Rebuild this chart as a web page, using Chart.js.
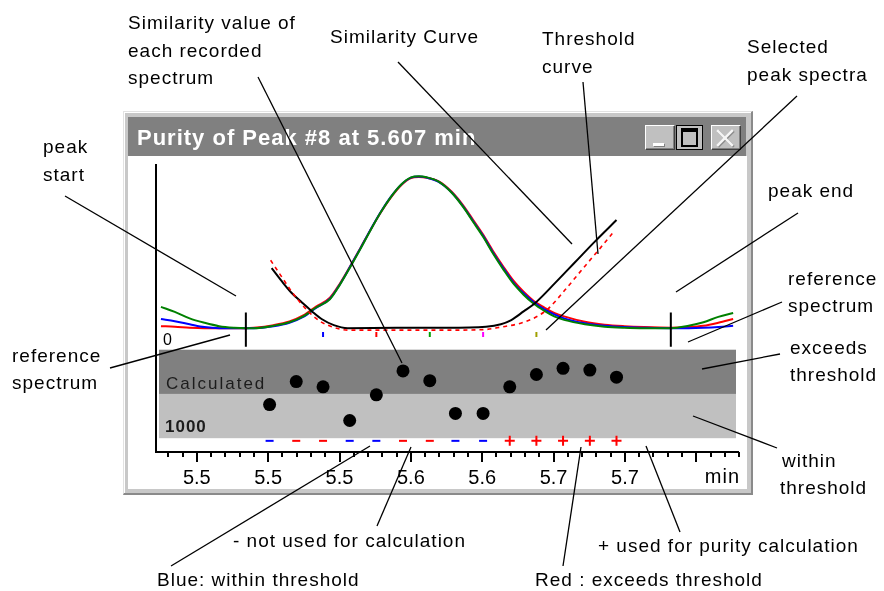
<!DOCTYPE html>
<html>
<head>
<meta charset="utf-8">
<title>Purity of Peak #8</title>
<script src="https://cdn.jsdelivr.net/npm/chart.js@4.4.1/dist/chart.umd.min.js"></script>
<style>
  html, body { margin: 0; padding: 0; background: #fff; }
  body { width: 884px; height: 591px; position: relative; overflow: hidden; font-family: "Liberation Sans", Arial, sans-serif; }
  #frame { position: absolute; left: 123px; top: 111px; width: 627px; height: 381px; background: #c8c8c8;
           border-top: 1px solid #e2e2e2; border-left: 1px solid #e2e2e2;
           border-right: 2px solid #8a8a8a; border-bottom: 2px solid #8a8a8a;
           box-shadow: inset 1px 1px 0 #fff; }
  #titlebar { position: absolute; left: 128px; top: 117px; width: 618px; height: 39px; background: #808080; }
  #client { position: absolute; left: 128px; top: 156px; width: 619px; height: 333px; background: #fff; }
  #client canvas { display: block; }
  .btn { position: absolute; top: 125px; height: 25px; box-sizing: border-box; background: #c0c0c0;
         border-top: 1px solid #fff; border-left: 1px solid #fff;
         border-right: 1px solid #404040; border-bottom: 1px solid #404040;
         box-shadow: inset -1px -1px 0 #808080; }
  #btnMin { left: 645px; width: 30px; }
  #btnMin i { position: absolute; left: 7px; top: 17px; width: 11px; height: 3px; background: #fff; box-shadow: 1px 1px 0 #808080; }
  #btnMax { left: 676px; width: 27px; border: 1px solid #000; box-shadow: none; }
  #btnMax i { position: absolute; left: 4px; top: 2px; width: 17px; height: 19px; box-sizing: border-box;
              border: 2px solid #000; border-top-width: 4px; }
  #btnClose { left: 711px; width: 30px; }
  #notes { position: absolute; left: 0; top: 0; pointer-events: none; letter-spacing: 1px; }
</style>
</head>
<body>
<div id="frame"></div>
<div id="titlebar"></div>
<div class="btn" id="btnMin"><i></i></div>
<div class="btn" id="btnMax"><i></i></div>
<div class="btn" id="btnClose"></div>
<div id="client"><canvas id="purity" width="619" height="333"></canvas></div>

<svg id="notes" width="884" height="591" font-family="Liberation Sans, Arial, sans-serif" font-size="19" fill="#000">
  <text x="137" y="145" font-size="22" font-weight="bold" fill="#fff">Purity of Peak #8 at 5.607 min</text>
  <g stroke-width="2.4" stroke-linecap="square">
    <line x1="719" y1="132" x2="733" y2="146" stroke="#8a8a8a"/>
    <line x1="733" y1="132" x2="719" y2="146" stroke="#8a8a8a"/>
    <line x1="718" y1="131" x2="732" y2="145" stroke="#f6f6f6"/>
    <line x1="732" y1="131" x2="718" y2="145" stroke="#f6f6f6"/>
  </g>

  <text x="128" y="29">Similarity value of</text>
  <text x="128" y="56.5">each recorded</text>
  <text x="128" y="84">spectrum</text>
  <text x="330" y="43">Similarity Curve</text>
  <text x="542" y="45">Threshold</text>
  <text x="542" y="72.5">curve</text>
  <text x="747" y="53">Selected</text>
  <text x="747" y="80.5">peak spectra</text>
  <text x="43" y="153">peak</text>
  <text x="43" y="181">start</text>
  <text x="768" y="197">peak end</text>
  <text x="788" y="285">reference</text>
  <text x="788" y="312">spectrum</text>
  <text x="12" y="362">reference</text>
  <text x="12" y="389">spectrum</text>
  <text x="790" y="354">exceeds</text>
  <text x="790" y="381">threshold</text>
  <text x="782" y="467">within</text>
  <text x="780" y="493.5">threshold</text>
  <text x="233" y="547">- not used for calculation</text>
  <text x="598" y="552">+ used for purity calculation</text>
  <text x="157" y="586">Blue:  within threshold</text>
  <text x="535" y="586">Red :  exceeds threshold</text>

  <g stroke="#000" stroke-width="1.3" fill="none">
    <line x1="258" y1="77" x2="402" y2="363"/>
    <line x1="398" y1="62" x2="572" y2="244"/>
    <line x1="583" y1="82" x2="598" y2="254"/>
    <line x1="797" y1="96" x2="546" y2="330"/>
    <line x1="65" y1="196" x2="236" y2="296"/>
    <line x1="798" y1="213" x2="676" y2="292"/>
    <line x1="782" y1="302" x2="688" y2="342"/>
    <line x1="110" y1="368" x2="230" y2="335"/>
    <line x1="780" y1="354" x2="702" y2="369"/>
    <line x1="777" y1="448" x2="693" y2="416"/>
    <line x1="171" y1="566" x2="370" y2="446"/>
    <line x1="377" y1="526" x2="411" y2="447"/>
    <line x1="563" y1="566" x2="581" y2="447"/>
    <line x1="680" y1="532" x2="646" y2="446"/>
  </g>
</svg>

<script>
// Retention time axis (min)
const timeRange = [5.423, 5.824];
const majorTicks = [5.451, 5.500, 5.549, 5.598, 5.647, 5.696, 5.745, 5.794];
const tickLabels = ['5.5', '5.5', '5.5', '5.6', '5.6', '5.7', '5.7', ''];
const minorPerMajor = 5;

// Chromatogram overlay (normalised signal, three wavelengths)
const chromTimes = [5.4264, 5.4359, 5.4461, 5.4562, 5.4664, 5.4766, 5.4847, 5.4902, 5.5037, 5.5146,
  5.5241, 5.5329, 5.5424, 5.5492, 5.5567, 5.5635, 5.5702, 5.5770, 5.5841, 5.5912,
  5.5981, 5.6035, 5.6089, 5.6171, 5.6259, 5.6340, 5.6408, 5.6476, 5.6544, 5.6618,
  5.6686, 5.6754, 5.6822, 5.6897, 5.6964, 5.7032, 5.7175, 5.7310, 5.7446, 5.7582,
  5.7765, 5.7887, 5.7989, 5.8091, 5.8193];
const signalGreen = [14.1, 10.8, 6.5, 3.6, 1.3, 0.3, 0, 0, 1.6, 3.9,
  7.8, 13.7, 19.2, 28.7, 41.1, 52.8, 64.8, 76.3, 86.7, 95.1,
  100.0, 100.7, 100.0, 97.1, 89.9, 80.2, 70.4, 60.6, 49.5, 38.5,
  29.3, 22.2, 16.3, 11.4, 7.8, 5.5, 2.6, 1.0, 0.3, 0,
  0, 1.6, 3.9, 7.5, 10.0];
const signalBlue = [6.1, 4.6, 2.6, 0.7, 0, 0, 0, 0, 1.3, 3.6,
  7.5, 13.4, 19.5, 29.0, 41.5, 53.2, 65.1, 76.5, 86.9, 95.0,
  99.8, 100.5, 99.8, 97.0, 90.1, 80.6, 70.9, 61.2, 50.2, 39.3,
  30.1, 23.1, 17.3, 12.4, 9.1, 6.5, 3.3, 1.6, 0.7, 0.3,
  0, 0, 0.2, 0.7, 1.6];
const signalRed = [1.3, 1.0, 0.3, 0, 0, 0, 0, 0.3, 2.0, 4.4,
  8.4, 14.3, 20.2, 29.5, 41.7, 53.4, 65.0, 76.2, 86.4, 94.6,
  99.5, 100.2, 99.7, 97.3, 90.6, 81.3, 71.7, 62.0, 51.2, 40.4,
  31.3, 24.1, 18.2, 13.7, 10.1, 7.8, 4.2, 2.3, 1.3, 0.7,
  0.3, 0.7, 1.6, 3.6, 6.1];

// Similarity curve and threshold curve
const simCurveTimes = [5.5024, 5.5092, 5.5160, 5.5234, 5.5302, 5.5370, 5.5451, 5.5546, 5.5886, 5.6225,
  5.6496, 5.6598, 5.6666, 5.6754, 5.6836, 5.6971, 5.7107, 5.7243, 5.7392];
const simCurve = [39.8, 31.3, 23.5, 16.9, 11.1, 5.9, 2.0, 0, 0.3, 0.3,
  1.0, 2.6, 5.2, 11.1, 16.9, 30.0, 43.7, 57.4, 71.7];
const thrCurveTimes = [5.5017, 5.5085, 5.5153, 5.5221, 5.5289, 5.5356, 5.5445, 5.5546, 5.5886, 5.6225,
  5.6476, 5.6598, 5.6734, 5.6836, 5.6924, 5.7039, 5.7175, 5.7283, 5.7378];
const thrCurve = [45.0, 35.2, 25.4, 16.9, 9.8, 4.6, 0.7, -1.3, -1.3, -1.3,
  -1.0, 0.7, 3.3, 7.2, 13.0, 25.4, 41.1, 53.4, 64.5];

// Peak limits and marker extent
const peakStart = 5.4847;
const peakEnd = 5.7765;
const markTop = 10.4;
const markBottom = -12.4;

// Recorded spectra across the peak
const spectrumTimes = [5.5010, 5.5193, 5.5377, 5.5560, 5.5743, 5.5926, 5.6110,
  5.6286, 5.6476, 5.6659, 5.6842, 5.7025, 5.7209, 5.7392];
const similarityValues = [996.2, 993.6, 994.2, 998.0, 995.1, 992.4, 993.5,
  997.2, 997.2, 994.2, 992.8, 992.1, 992.3, 993.1];
const usedForPurity = [false, false, false, false, false, false, false,
  false, false, true, true, true, true, true];
const selectedSpectra = [2, 4, 6, 8, 10];
const selectedColors = ['#0000ff', '#ff0000', '#00a000', '#ff00ff', '#a0a000'];
const selectedLevel = -4.2;

// Similarity panel bands
const bandTop = 990;
const similarityThreshold = 995;
const bandBottom = 1000;
const signRow = 1000.3;

const FONT = '"Liberation Sans", Arial, sans-serif';
Chart.defaults.font.family = FONT;

const pts = (ts, vs) => ts.map((t, i) => ({ x: t, y: vs[i] }));

const panelDecor = {
  id: 'panelDecor',
  beforeDatasetsDraw(chart) {
    const { ctx, chartArea: a, scales } = chart;
    const yB = scales.yB, yA = scales.yA;
    const l = a.left + 3, r = a.right - 4;
    const yT = yB.getPixelForValue(bandTop);
    const yM = yB.getPixelForValue(similarityThreshold);
    const yE = yB.getPixelForValue(bandBottom);
    ctx.save();
    ctx.fillStyle = '#808080';
    ctx.fillRect(l, yT, r - l, yM - yT);
    ctx.fillStyle = '#c0c0c0';
    ctx.fillRect(l, yM, r - l, yE - yM);
    ctx.fillStyle = '#1c1c1c';
    ctx.textBaseline = 'alphabetic';
    ctx.textAlign = 'left';
    ctx.font = '17px ' + FONT;
    ctx.letterSpacing = '2px';
    ctx.fillText('Calculated', a.left + 10, yM - 5);
    ctx.font = 'bold 17px ' + FONT;
    ctx.letterSpacing = '1px';
    ctx.fillText('1000', a.left + 9, yE - 6);
    ctx.fillStyle = '#000';
    ctx.font = '16px ' + FONT;
    ctx.letterSpacing = '0px';
    ctx.fillText('0', a.left + 7, yA.getPixelForValue(0) + 17);
    ctx.restore();
  },
  afterDatasetsDraw(chart) {
    const { ctx, chartArea: a, scales } = chart;
    const x = scales.x;
    ctx.save();
    ctx.fillStyle = '#000';
    // axis lines
    ctx.fillRect(a.left - 1, a.top + 1, 2, a.bottom - a.top);
    ctx.fillRect(a.left - 1, a.bottom - 1, a.right - a.left, 2);
    // tick marks: long on labelled values, short in between
    const step = (majorTicks[1] - majorTicks[0]) / minorPerMajor;
    for (let k = -minorPerMajor * 2; k <= minorPerMajor * majorTicks.length; k++) {
      const v = majorTicks[0] + k * step;
      if (v < timeRange[0] + step * 0.5 || v > timeRange[1] + 1e-6) continue;
      const px = Math.round(x.getPixelForValue(v));
      const len = (k % minorPerMajor === 0) ? 10 : 5;
      ctx.fillRect(px - 1, a.bottom, 2, len);
    }
    ctx.font = '20px ' + FONT;
    ctx.textAlign = 'right';
    ctx.textBaseline = 'alphabetic';
    ctx.letterSpacing = '1px';
    ctx.fillText('min', a.right, a.bottom + 31);
    ctx.restore();
  }
};

new Chart(document.getElementById('purity'), {
  type: 'line',
  data: {
    datasets: [
      { label: 'Signal 1', data: pts(chromTimes, signalGreen), yAxisID: 'yA',
        borderColor: '#008000', borderWidth: 2, pointRadius: 0, cubicInterpolationMode: 'monotone', order: 6 },
      { label: 'Signal 2', data: pts(chromTimes, signalBlue), yAxisID: 'yA',
        borderColor: '#0000ff', borderWidth: 2, pointRadius: 0, cubicInterpolationMode: 'monotone', order: 7 },
      { label: 'Signal 3', data: pts(chromTimes, signalRed), yAxisID: 'yA',
        borderColor: '#ff0000', borderWidth: 2, pointRadius: 0, cubicInterpolationMode: 'monotone', order: 8 },
      { label: 'Similarity curve', data: pts(simCurveTimes, simCurve), yAxisID: 'yA',
        borderColor: '#000', borderWidth: 2, pointRadius: 0, cubicInterpolationMode: 'monotone', order: 5 },
      { label: 'Threshold curve', data: pts(thrCurveTimes, thrCurve), yAxisID: 'yA',
        borderColor: '#ff0000', borderWidth: 1.6, borderDash: [4, 4], pointRadius: 0,
        cubicInterpolationMode: 'monotone', order: 4 },
      { label: 'Peak limits', yAxisID: 'yA', borderColor: '#000', borderWidth: 2, pointRadius: 0, spanGaps: false, order: 3,
        data: [{ x: peakStart, y: markTop }, { x: peakStart, y: markBottom }, { x: peakStart, y: null },
               { x: peakEnd, y: markTop }, { x: peakEnd, y: markBottom }] },
      { label: 'Selected spectra', yAxisID: 'yA', showLine: false, order: 2,
        data: selectedSpectra.map(i => ({ x: spectrumTimes[i], y: selectedLevel })),
        pointStyle: 'line', pointRotation: 90, pointRadius: 2.5, pointBorderWidth: 2,
        pointBorderColor: selectedColors, pointBackgroundColor: selectedColors },
      { label: 'Similarity', yAxisID: 'yB', showLine: false, order: 0,
        data: pts(spectrumTimes, similarityValues),
        pointStyle: 'circle', pointRadius: 6.5, pointBorderWidth: 0,
        pointBackgroundColor: '#000', pointBorderColor: '#000' },
      { label: 'Usage', yAxisID: 'yB', showLine: false, order: 1,
        data: spectrumTimes.map(t => ({ x: t, y: signRow })),
        pointStyle: usedForPurity.map(u => u ? 'cross' : 'line'),
        pointRadius: usedForPurity.map(u => u ? 5 : 4),
        pointBorderWidth: 2,
        pointBorderColor: similarityValues.map(v => v < similarityThreshold ? '#ff0000' : '#0000ff'),
        pointBackgroundColor: similarityValues.map(v => v < similarityThreshold ? '#ff0000' : '#0000ff') }
    ]
  },
  options: {
    responsive: false,
    devicePixelRatio: 1,
    animation: false,
    events: [],
    layout: { padding: { left: 28, right: 0, top: 2, bottom: 0 } },
    plugins: { legend: { display: false }, tooltip: { enabled: false } },
    scales: {
      x: {
        type: 'linear', min: timeRange[0], max: timeRange[1],
        grid: { display: false, drawTicks: false, tickLength: 0 },
        border: { display: false },
        afterBuildTicks: s => { s.ticks = majorTicks.map(v => ({ value: v })); },
        afterFit: s => { s.height = 37; },
        ticks: {
          autoSkip: false, maxRotation: 0, minRotation: 0, padding: 14,
          color: '#000', font: { size: 20, family: FONT },
          callback: (v, i) => tickLabels[i] ?? ''
        }
      },
      yA: { type: 'linear', display: false, min: -82.1, max: 109.5 },
      yB: { type: 'linear', display: false, reverse: true, min: 968.9, max: 1001.56 }
    }
  },
  plugins: [panelDecor]
});
</script>
</body>
</html>
